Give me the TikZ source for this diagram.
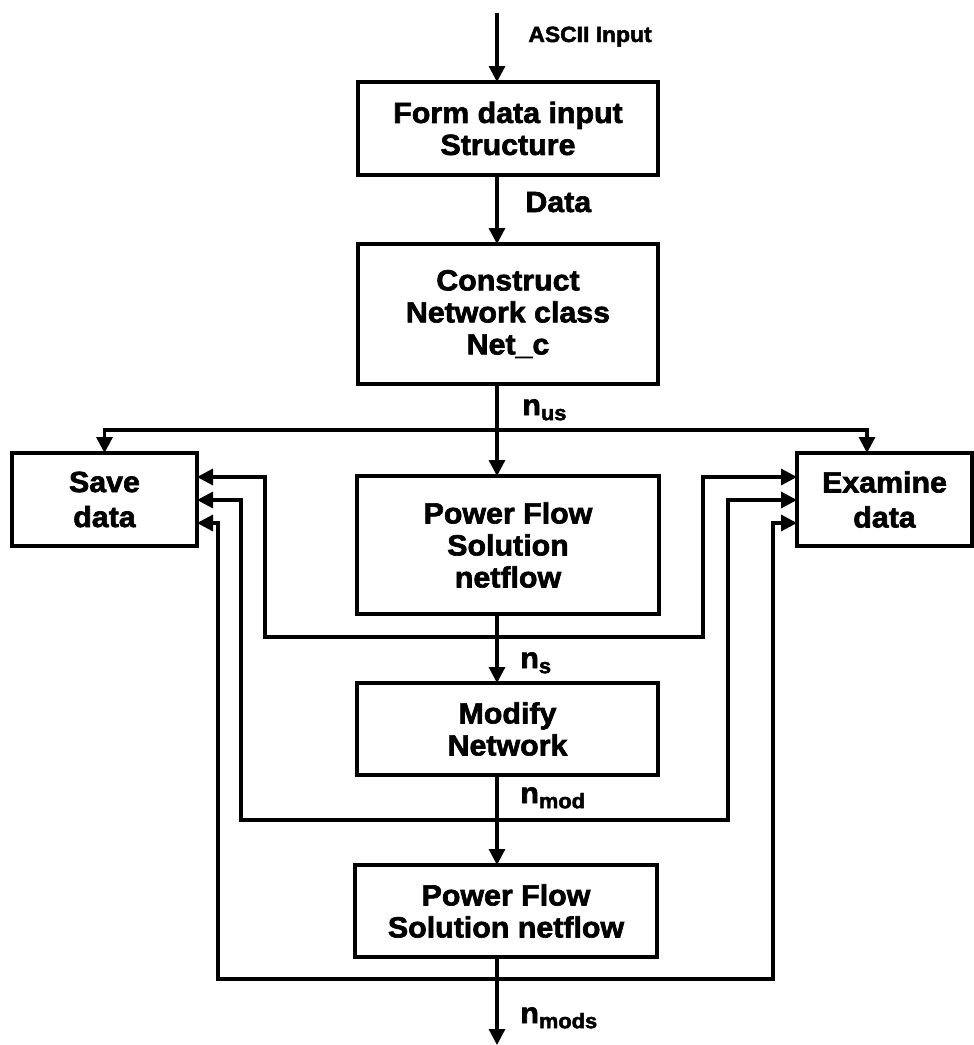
\documentclass[tikz,border=0pt]{standalone}
\usepackage{fontspec}
\setmainfont{Liberation Sans}[FakeStretch=1.04, BoldFeatures={FakeBold=2.2}]
\usetikzlibrary{arrows.meta}
\newcommand{\subtxt}[1]{\raisebox{-2.6pt}{\fontsize{10.5pt}{12pt}\selectfont #1}}
\begin{document}
\begin{tikzpicture}[x=0.5pt,y=-0.5pt,
  box/.style={draw, line width=1.6pt, inner sep=0pt, outer sep=0pt, align=center,
    font=\bfseries\fontsize{14.6pt}{16pt}\selectfont},
  side/.style={box, font=\bfseries\fontsize{14.6pt}{17.5pt}\selectfont},
  conn/.style={line width=1.6pt, -{Triangle[length=8pt,width=8pt]}},
  lab/.style={anchor=base west, inner sep=0pt, font=\bfseries\fontsize{14.6pt}{16pt}\selectfont},
  small/.style={lab, font=\bfseries\fontsize{11pt}{12pt}\selectfont}]
\useasboundingbox (0,0) rectangle (974,1045);

% boxes
\node[box, minimum width=150pt, minimum height=46.5pt] (form) at (508,128.5) {Form data input\\Structure};
\node[box, minimum width=150pt, minimum height=70pt] (cons) at (508,314) {Construct\\Network class\\Net\_c};
\node[box, minimum width=151pt, minimum height=69pt] (pf1) at (508,545) {Power Flow\\Solution\\netflow};
\node[box, minimum width=150.5pt, minimum height=46pt] (mod) at (507.5,729) {Modify\\Network};
\node[box, minimum width=151pt, minimum height=46pt] (pf2) at (506,911) {Power Flow\\Solution netflow};
\node[side, minimum width=92.5pt, minimum height=46.5pt] (save) at (104.5,499.5) {Save\\data};
\node[side, minimum width=87.5pt, minimum height=46.5pt] (exam) at (884.5,499.5) {Examine\\data};

% coordinates
\coordinate (mx) at (497,0);
\coordinate (ex) at (867,0);
\coordinate (in) at (497,13);
\coordinate (out) at (497,1045);
\coordinate (j1) at (497,430);
\coordinate (j2) at (497,637);
\coordinate (j3) at (497,820);
\coordinate (j4) at (497,979);
\coordinate (l1) at (265,477);
\coordinate (r1) at (703,477);
\coordinate (l2) at (241,500);
\coordinate (r2) at (728,500);
\coordinate (l3) at (218,523);
\coordinate (r3) at (773,523);

% main flow
\draw[conn] (in) -- (form.north -| mx);
\draw[conn] (form.south -| mx) -- (cons.north -| mx);
\draw[conn] (cons.south -| mx) -- (pf1.north -| mx);
\draw[conn] (pf1.south -| mx) -- (mod.north -| mx);
\draw[conn] (mod.south -| mx) -- (pf2.north -| mx);
\draw[conn] (pf2.south -| mx) -- (out);

% branches
\draw[conn] (j1) -| (save.north);
\draw[conn] (j1) -| (exam.north -| ex);
\draw[conn] (j2) -| (l1) -- (save.east |- l1);
\draw[conn] (j2) -| (r1) -- (exam.west |- r1);
\draw[conn] (j3) -| (l2) -- (save.east |- l2);
\draw[conn] (j3) -| (r2) -- (exam.west |- r2);
\draw[conn] (j4) -| (l3) -- (save.east |- l3);
\draw[conn] (j4) -| (r3) -- (exam.west |- r3);

% labels
\node[small] (ascii) at (528,42) {ASCII Input};
\node[lab] (data) at (525,212) {Data};
\node[lab] (nus) at (522,415) {n\subtxt{us}};
\node[lab] (ns) at (520,668) {n\subtxt{s}};
\node[lab] (nmod) at (520,803) {n\subtxt{mod}};
\node[lab] (nmods) at (520,1023) {n\subtxt{mods}};
\end{tikzpicture}
\end{document}
